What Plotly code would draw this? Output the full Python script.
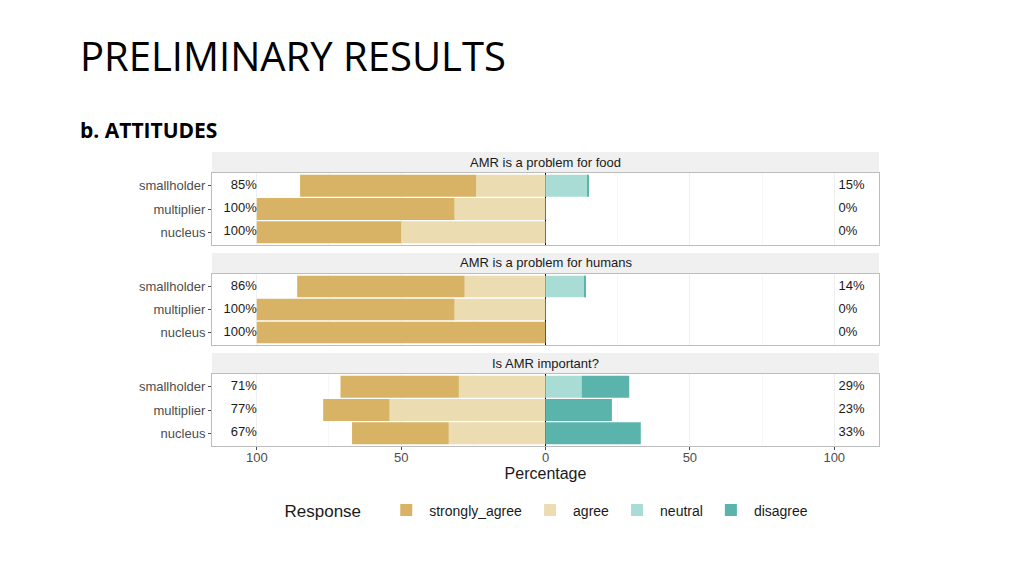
import plotly.graph_objects as go

categories = ["smallholder", "multiplier", "nucleus"]
questions = ["AMR is a problem for food", "AMR is a problem for humans", "Is AMR important?"]
responses = ["strongly_agree", "agree", "neutral", "disagree"]
colors = {"strongly_agree": "#D8B365", "agree": "#EBDCB2", "neutral": "#A9DCD4", "disagree": "#5AB4AC"}

strongly_agree = [[61, 68.5, 50], [58, 68.5, 100], [41, 23, 33.5]]
agree = [[24, 31.5, 50], [28, 31.5, 0], [30, 54, 33.5]]
neutral = [[14.6, 0, 0], [13.6, 0, 0], [12.5, 0, 0]]
disagree = [[0.4, 0, 0], [0.4, 0, 0], [16.5, 23, 33]]

# page has an 8px body margin: figure is 1008x560, offset by 8px
OFF = 8
W, H = 1008, 560
x0px, x1px = 212 - OFF, 879 - OFF
panels_px = [(173, 245), (274, 345), (374, 446)]
strips_px = [(152, 172), (253, 273), (353, 373)]

fig = go.Figure()

def px2y(p):
    return 1 - (p - OFF) / H

def px2x(p):
    return (p - OFF) / W

for i in range(3):
    suffix = "" if i == 0 else str(i + 1)
    xa, ya = "x" + suffix, "y" + suffix
    data = {"strongly_agree": strongly_agree[i], "agree": agree[i],
            "neutral": neutral[i], "disagree": disagree[i]}
    for r in ["agree", "strongly_agree", "neutral", "disagree"]:
        vals = data[r]
        sign = -1 if r in ("agree", "strongly_agree") else 1
        fig.add_trace(go.Bar(
            x=[sign * v for v in vals], y=categories, orientation="h",
            marker=dict(color=colors[r], line=dict(width=0)),
            width=0.94, name=r, showlegend=(i == 0),
            legendrank=responses.index(r) + 1,
            xaxis=xa, yaxis=ya, hoverinfo="skip"))
    left = [f"{round(a + b)}%" for a, b in zip(strongly_agree[i], agree[i])]
    right = [f"{round(a + b)}%" for a, b in zip(neutral[i], disagree[i])]
    fig.add_trace(go.Scatter(x=[-100] * 3, y=categories, text=left, mode="text",
                             textposition="middle left", showlegend=False,
                             textfont=dict(size=13, color="#1A1A1A", family="Liberation Sans"),
                             xaxis=xa, yaxis=ya, hoverinfo="skip", cliponaxis=False))
    fig.add_trace(go.Scatter(x=[101.5] * 3, y=categories, text=right, mode="text",
                             textposition="middle right", showlegend=False,
                             textfont=dict(size=13, color="#1A1A1A", family="Liberation Sans"),
                             xaxis=xa, yaxis=ya, hoverinfo="skip", cliponaxis=False))

layout = dict(
    width=W, height=H, margin=dict(l=0, r=0, t=0, b=0),
    paper_bgcolor="white", plot_bgcolor="white",
    barmode="relative", bargap=0.05,
    font=dict(family="Liberation Sans", color="#4D4D4D"),
    legend=dict(orientation="h", x=px2x(548), xanchor="center", y=px2y(511), yanchor="middle",
                title=dict(text="Response   ", font=dict(size=17, color="#1A1A1A")),
                font=dict(size=14, color="#1A1A1A"), traceorder="normal",
                itemwidth=36),
)

shapes = []
annotations = []
for i in range(3):
    suffix = "" if i == 0 else str(i + 1)
    top, bot = panels_px[i]
    xkey = "xaxis" + suffix
    ykey = "yaxis" + suffix
    is_bottom = (i == 2)
    layout[xkey] = dict(
        domain=[x0px / W, x1px / W], range=[-115.5, 115.5], anchor="y" + suffix,
        tickvals=[-100, -50, 0, 50, 100], ticktext=["100", "50", "0", "50", "100"],
        showticklabels=is_bottom, ticks="outside" if is_bottom else "", ticklen=3,
        tickcolor="#4D4D4D", tickfont=dict(size=13, color="#4D4D4D"),
        ticklabelstandoff=-4,
        showgrid=True, gridcolor="#F0F0F0", gridwidth=1,
        minor=dict(dtick=25, showgrid=True, gridcolor="#F7F7F7"),
        zeroline=True, zerolinecolor="#000000", zerolinewidth=1,
        showline=True, linecolor="#BDBDBD", linewidth=1, mirror=True,
        fixedrange=True,
    )
    if is_bottom:
        layout[xkey]["title"] = dict(text="Percentage", font=dict(size=16, color="#1A1A1A"), standoff=0)
    layout[ykey] = dict(
        domain=[px2y(bot), px2y(top)], anchor="x" + suffix,
        type="category", categoryorder="array", categoryarray=categories,
        range=[2.55, -0.55], ticks="outside", ticklen=3, tickcolor="#4D4D4D",
        tickfont=dict(size=13, color="#4D4D4D"), showgrid=False,
        showline=True, linecolor="#BDBDBD", linewidth=1, mirror=True,
        fixedrange=True,
    )
    st, sb = strips_px[i]
    shapes.append(dict(type="rect", xref="paper", yref="paper",
                       x0=x0px / W, x1=x1px / W, y0=px2y(sb), y1=px2y(st),
                       fillcolor="#F0F0F0", line=dict(width=0), layer="below"))
    annotations.append(dict(text=questions[i], xref="paper", yref="paper",
                            x=(x0px + x1px) / 2 / W, y=px2y((st + sb) / 2),
                            xanchor="center", yanchor="middle", showarrow=False,
                            font=dict(size=13, color="#1A1A1A")))

annotations.append(dict(text="PRELIMINARY RESULTS", xref="paper", yref="paper",
                        x=px2x(78), y=px2y(55), xanchor="left", yanchor="middle", showarrow=False,
                        font=dict(size=40, color="#000000", family="Open Sans")))
annotations.append(dict(text="<b>b. ATTITUDES</b>", xref="paper", yref="paper",
                        x=px2x(78), y=px2y(130), xanchor="left", yanchor="middle", showarrow=False,
                        font=dict(size=21, color="#000000", family="Open Sans")))

layout["shapes"] = shapes
layout["annotations"] = annotations
fig.update_layout(**layout)
fig.write_html("out.html")
